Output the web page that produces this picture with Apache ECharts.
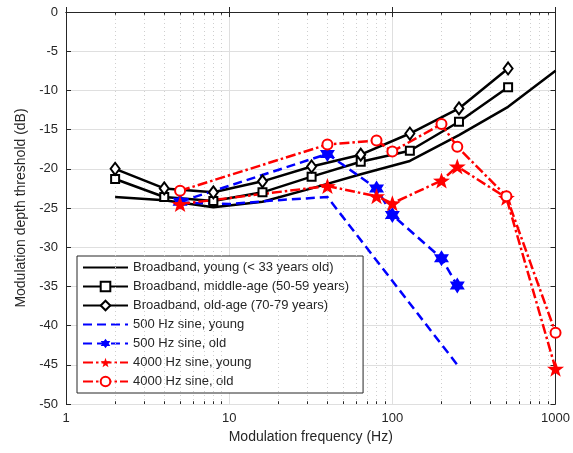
<!DOCTYPE html>
<html><head><meta charset="utf-8">
<script src="https://cdn.jsdelivr.net/npm/echarts@6/dist/echarts.min.js"></script>
<style>html,body{margin:0;padding:0;background:#fff}#c{width:573px;height:453px}</style>
</head><body><div id="c"></div>
<script>
// ---- data ----
const bbX = [2, 4, 8, 16, 32, 64, 128, 256, 512, 1000];
const bbYoung = [-23.6, -24.0, -24.9, -24.2, -22.5, -20.7, -19.0, -15.7, -12.1, -7.5];
const bbMidX = [2, 4, 8, 16, 32, 64, 128, 256, 512];
const bbMiddle = [-21.3, -23.6, -24.1, -23.0, -21.0, -19.1, -17.7, -14.0, -9.6];
const bbOld = [-20.0, -22.5, -23.0, -21.6, -19.7, -18.2, -15.5, -12.3, -7.2];
const s500YoungX = [5, 10, 20, 40, 250];
const s500Young = [-24.3, -24.5, -24.0, -23.6, -45.0];
const s500OldX = [5, 40, 80, 100, 200, 250];
const s500Old = [-24.2, -18.1, -22.5, -25.9, -31.4, -34.9];
const s4kX = [5, 40, 80, 100, 200, 250, 500, 1000];
const s4kYoung = [-24.5, -22.2, -23.5, -24.4, -21.5, -19.7, -23.7, -45.5];
const s4kOld = [-22.8, -16.9, -16.4, -17.8, -14.3, -17.2, -23.5, -40.9];
const names = ['Broadband, young (< 33 years old)', 'Broadband, middle-age (50-59 years)',
  'Broadband, old-age (70-79 years)', '500 Hz sine, young', '500 Hz sine, old',
  '4000 Hz sine, young', '4000 Hz sine, old'];
const minorX = [2,3,4,5,6,7,8,9,20,30,40,50,60,70,80,90,200,300,400,500,600,700,800,900];
const yTicks = {min: -50, max: 0, step: 5};

const pair = (xs, ys) => xs.map((x, i) => [x, ys[i]]);
const pentagram = 'path://M0,-10 L2.35,-3.24 L9.51,-3.09 L3.8,1.24 L5.88,8.09 L0,4 L-5.88,8.09 L-3.8,1.24 L-9.51,-3.09 L-2.35,-3.24 Z';
const hexagram = 'path://M0,-10 L2.885,-5 L8.66,-5 L5.77,0 L8.66,5 L2.885,5 L0,10 L-2.885,5 L-8.66,5 L-5.77,0 L-8.66,-5 L-2.885,-5 Z';
const FONT = 'Liberation Sans, Arial, Helvetica, sans-serif';
const TXT = '#262626';
const dashDot = [10, 3, 2.5, 3];
const dash = [9, 5];

const minorLines = minorX.map(v => ({xAxis: v}));
const minorTicks = [];
minorX.forEach(v => {
  minorTicks.push([{coord: [v, yTicks.min]}, {coord: [v, yTicks.min + 0.35]}]);
  minorTicks.push([{coord: [v, yTicks.max]}, {coord: [v, yTicks.max - 0.35]}]);
});

function line(name, data, color, type, symbol, size) {
  const hidden = !symbol;
  const empty = symbol && symbol.indexOf('empty') === 0;
  return {
    name, type: 'line', data,
    symbol: hidden ? 'circle' : symbol, symbolSize: size || 8,
    showSymbol: !hidden, z: 5,
    lineStyle: {color, width: 2.5, type},
    itemStyle: hidden ? {color: 'rgba(0,0,0,0)', opacity: 0}
      : {color, borderColor: color, borderWidth: empty ? 1.8 : 0},
    emphasis: {disabled: true}, animation: false
  };
}

const chart = echarts.init(document.getElementById('c'), null, {renderer: 'canvas'});
const axisCommon = {
  axisLine: {show: true, lineStyle: {color: TXT, width: 1}},
  axisTick: {show: true, inside: true, length: 5, lineStyle: {color: TXT}},
};
chart.setOption({
  animation: false,
  backgroundColor: '#fff',
  textStyle: {fontFamily: FONT},
  grid: {left: 66, right: 15, top: 12, bottom: 49, containLabel: false},
  xAxis: [{
    type: 'log', logBase: 10, min: 1, max: 1000, position: 'bottom',
    name: 'Modulation frequency (Hz)', nameLocation: 'middle', nameGap: 26,
    nameTextStyle: {fontFamily: FONT, fontSize: 14, color: TXT},
    axisLabel: {fontFamily: FONT, fontSize: 13, color: TXT, margin: 8, formatter: v => String(Math.round(v))},
    splitLine: {show: true, lineStyle: {color: '#dfdfdf', width: 1}},
    ...axisCommon
  }, {
    type: 'log', logBase: 10, min: 1, max: 1000, position: 'top',
    axisLabel: {show: false}, splitLine: {show: false}, ...axisCommon
  }],
  yAxis: [{
    type: 'value', min: yTicks.min, max: yTicks.max, interval: yTicks.step,
    name: 'Modulation depth threshold (dB)', nameLocation: 'middle', nameGap: 38,
    nameTextStyle: {fontFamily: FONT, fontSize: 14, color: TXT},
    axisLabel: {fontFamily: FONT, fontSize: 13, color: TXT, margin: 8},
    splitLine: {show: true, lineStyle: {color: '#dfdfdf', width: 1}},
    ...axisCommon
  }, {
    type: 'value', min: yTicks.min, max: yTicks.max, interval: yTicks.step, position: 'right',
    axisLabel: {show: false}, splitLine: {show: false}, ...axisCommon
  }],
  legend: {
    show: true, orient: 'vertical', left: 77, top: 256,
    data: names, itemWidth: 45, itemHeight: 12, itemGap: 6,
    padding: [5, 14, 5, 5], borderColor: '#262626', borderWidth: 1, backgroundColor: '#fff',
    textStyle: {fontFamily: FONT, fontSize: 13, color: TXT, lineHeight: 13},
    selectedMode: false
  },
  series: [
    {
      name: 'grid-minor', type: 'line', data: [], z: 1, silent: true, animation: false,
      markLine: {
        silent: true, symbol: 'none', label: {show: false}, animation: false,
        lineStyle: {color: '#cfcfcf', width: 1, type: [1, 3]},
        data: minorLines
      }
    },
    {
      name: 'ticks-minor', type: 'line', data: [], z: 2, silent: true, animation: false,
      markLine: {
        silent: true, symbol: 'none', label: {show: false}, animation: false,
        lineStyle: {color: TXT, width: 1, type: 'solid'},
        data: minorTicks
      }
    },
    line(names[0], pair(bbX, bbYoung), '#000', 'solid'),
    line(names[1], pair(bbMidX, bbMiddle), '#000', 'solid', 'emptyRect', 8),
    line(names[2], pair(bbMidX, bbOld), '#000', 'solid', 'emptyDiamond', [9, 12]),
    line(names[3], pair(s500YoungX, s500Young), '#0000ff', dash),
    line(names[4], pair(s500OldX, s500Old), '#0000ff', dash, hexagram, [15, 16]),
    line(names[5], pair(s4kX, s4kYoung), '#ff0000', dashDot, pentagram, [17, 16]),
    line(names[6], pair(s4kX, s4kOld), '#ff0000', dashDot, 'emptyCircle', 10)
  ]
});
</script></body></html>
